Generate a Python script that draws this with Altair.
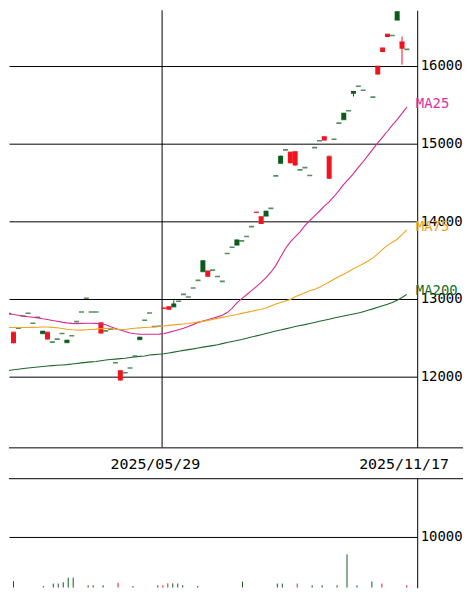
import altair as alt
import pandas as pd

# ---------------- data ----------------
# candle slots (index 0..82); None = no trade in that slot
opens = [12812,12430,12625,12782,12817,12688,12765,12590,12480,12445,
         12483,12555,12475,12526,12709,12833,13009,12833,12833,12555,
         12590,12612,12180,11950,12050,12111,12265,12513,12727,12820,
         12645,12650,12875,12862,12943,12970,13060,13025,13141,13240,
         13500,13287,13372,13290,13227,13586,13667,13765,13748,13804,
         13932,14110,13966,14137,14167,14586,14846,14920,14747,14718,
         14663,14692,14590,14949,15038,15042,14547,15058,15265,15397,
         15423,15679,15740,15688,None,15599,15890,16180,16375,16393,
         16705,16222,16214]
highs = [12812,12570,12625,12782,12817,12688,12765,12590,12570,12445,
         12483,12555,12475,12526,12709,12833,13009,12833,12833,12692,
         12590,12612,12180,12077,12050,12111,12265,12513,12727,12820,
         12645,12650,12885,12900,12983,12970,13060,13025,13141,13240,
         13500,13359,13372,13290,13227,13586,13667,13765,13748,13804,
         13932,14118,14060,14137,14167,14586,14846,14920,14889,14897,
         14663,14692,14590,14949,15038,15090,14846,15058,15265,15397,
         15423,15679,15740,15688,None,15599,15996,16230,16410,16393,
         16705,16380,16214]
lows = [12812,12430,12625,12782,12817,12688,12765,12555,12480,12445,
        12483,12555,12440,12526,12709,12833,13009,12833,12833,12555,
        12590,12612,12180,11950,12050,12111,12265,12480,12727,12820,
        12645,12650,12875,12862,12900,12970,13060,13025,13141,13240,
        13355,13287,13372,13290,13227,13586,13667,13696,13748,13804,
        13932,14110,13966,14068,14167,14586,14747,14920,14747,14718,
        14663,14692,14590,14949,15038,15042,14547,15058,15265,15312,
        15423,15607,15740,15688,None,15599,15890,16180,16375,16393,
        16594,16017,16214]
closes = [12812,12570,12625,12782,12817,12688,12765,12555,12570,12445,
          12483,12555,12440,12526,12709,12833,13009,12833,12833,12692,
          12590,12612,12180,12077,12050,12111,12265,12480,12727,12820,
          12645,12650,12885,12900,12900,12970,13060,13025,13141,13240,
          13355,13359,13372,13290,13227,13586,13667,13696,13748,13804,
          13932,14118,14060,14068,14167,14586,14747,14920,14889,14897,
          14663,14692,14590,14949,15038,15090,14833,15058,15265,15312,
          15423,15650,15740,15688,None,15599,15996,16230,16410,16393,
          16594,16308,16214]
volumes = [0,0,1300,0,0,0,0,0,330,0,
           820,820,1070,1970,1970,0,0,490,490,0,
           490,0,0,980,0,0,330,0,0,0,
           0,490,490,870,870,820,490,0,0,330,
           0,0,0,0,0,0,0,0,1200,0,
           0,0,0,0,0,820,820,0,0,820,
           0,0,490,0,490,0,0,490,0,6560,
           0,490,0,0,1230,0,820,0,0,0,
           0,490,0]
ma25 = [12812,12800,12790,12779,12772,12764,12757,12745,12735,12724,
        12713,12702,12693,12686,12683,12686,12688,12688,12686,12680,
        12668,12643,12621,12600,12582,12562,12552,12548,12547,12547,
        12547,12548,12555,12570,12588,12605,12622,12645,12670,12697,
        12715,12733,12752,12770,12790,12825,12880,12950,13005,13055,
        13108,13160,13215,13275,13345,13430,13540,13650,13735,13800,
        13865,13945,14010,14070,14130,14195,14250,14320,14395,14475,
        14545,14615,14695,14770,14850,14930,15010,15085,15160,15240,
        15310,15390,15470]
ma75 = [12632,12632,12632,12632,12633,12635,12637,12640,12640,12635,
        12630,12620,12610,12604,12600,12599,12603,12608,12612,12618,
        12623,12617,12611,12605,12608,12616,12623,12628,12632,12636,
        12640,12645,12652,12660,12667,12673,12678,12685,12695,12705,
        12712,12725,12738,12750,12763,12775,12788,12800,12815,12828,
        12842,12855,12868,12885,12910,12935,12955,12975,12995,13030,
        13055,13080,13105,13125,13150,13185,13220,13255,13290,13320,
        13355,13390,13420,13455,13490,13530,13580,13640,13690,13730,
        13770,13830,13890]
ma200 = [12080,12088,12096,12104,12112,12118,12124,12130,12137,12142,
         12146,12150,12155,12162,12170,12177,12184,12190,12196,12205,
         12214,12220,12226,12232,12238,12246,12254,12261,12266,12278,
         12284,12289,12295,12305,12316,12327,12338,12348,12358,12370,
         12380,12390,12400,12410,12425,12440,12452,12465,12478,12494,
         12510,12525,12540,12556,12572,12588,12600,12615,12630,12646,
         12658,12670,12684,12698,12713,12726,12740,12755,12768,12780,
         12793,12806,12820,12837,12855,12873,12893,12912,12932,12955,
         12985,13020,13060]
price_ticks = [12000, 13000, 14000, 15000, 16000]
volume_ticks = [10000]
date_labels = ["2025/05/29", "2025/11/17"]
date_label_pos = [30.5, 80.46]
date_line_pos = [31.6]
ma_names = ["MA25", "MA75", "MA200"]

# ---------------- styling ----------------
RED = "#f0141e"
GREEN = "#0b5c1c"
MA_COLORS = {"MA25": "#d42a92", "MA75": "#f2a41c", "MA200": "#1f662c"}
MA_LABEL_COLORS = {"MA25": "#e0309a", "MA75": "#f0a21c", "MA200": "#18702c"}
FONT = "DejaVu Sans Mono"
FS = 14
TOTAL_W = 456

n = len(closes)
df = pd.DataFrame({
    "i": list(range(n)), "o": opens, "h": highs, "l": lows, "c": closes,
    "vol": volumes, "ma25": ma25, "ma75": ma75, "ma200": ma200,
})
df["col"] = [RED if (c is not None and o is not None and c > o) else GREEN
             for o, c in zip(opens, closes)]
candles = df.dropna(subset=["c"]).copy()
vols = df[df["vol"] > 0].copy()

xs = alt.Scale(domain=[1.1, 83.1], nice=False, zero=False)
ys = alt.Scale(domain=[11089.7, 16717.9], nice=False, zero=False)
X = alt.X("i:Q", scale=xs, axis=None)

price_axis = alt.Axis(orient="right", values=price_ticks, grid=True, gridColor="black",
                      gridOpacity=1, gridWidth=1, ticks=False, domain=True,
                      domainColor="black", domainWidth=1, labelFont=FONT,
                      labelFontSize=FS, labelColor="black", labelPadding=3,
                      labelOverlap=False, labelFlush=False, format="d", title=None)


def PY(field):
    return alt.Y(field, scale=ys, axis=price_axis)


W = 410
axis_holder = alt.Chart(pd.DataFrame({"v": price_ticks})).mark_point(opacity=0).encode(
    y=PY("v:Q"))
date_line = alt.Chart(pd.DataFrame({"i": date_line_pos})).mark_rule(
    color="black", strokeWidth=1).encode(x=X)

wicks = alt.Chart(candles).mark_rule(strokeWidth=1, clip=True).encode(
    x=X, y=PY("l:Q"), y2="h:Q", color=alt.Color("col:N", scale=None))
bodies = alt.Chart(candles).mark_bar(size=5, clip=True).encode(
    x=X, y=PY("o:Q"), y2="c:Q", color=alt.Color("col:N", scale=None))
ticks = alt.Chart(candles).mark_tick(orient="horizontal", size=5, thickness=1.6, clip=True).encode(
    x=X, y=PY("c:Q"), color=alt.Color("col:N", scale=None))

ma_layers = []
for name, field in zip(ma_names, ["ma25", "ma75", "ma200"]):
    ma_layers.append(alt.Chart(df).mark_line(color=MA_COLORS[name], strokeWidth=1.1, clip=True).encode(
        x=X, y=PY(f"{field}:Q")))

last = df.iloc[-1]
ma_lab = pd.DataFrame({
    "i": [last["i"]] * 3,
    "v": [last["ma25"], last["ma75"], last["ma200"]],
    "label": ma_names,
    "col": [MA_LABEL_COLORS[m] for m in ma_names],
})
ma_text = alt.Chart(ma_lab).mark_text(align="left", baseline="middle", dx=9, dy=-3,
                                     font=FONT, fontSize=FS).encode(
    x=X, y=PY("v:Q"), text="label:N", color=alt.Color("col:N", scale=None))

price = alt.layer(axis_holder, wicks, date_line, bodies, ticks, *ma_layers, ma_text).properties(
    width=W, height=439)

# date strip
lab_df = pd.DataFrame({"pos": date_label_pos, "label": date_labels})
strip_text = alt.Chart(lab_df).mark_text(align="center", baseline="middle", font=FONT,
                                         fontSize=15, color="black").encode(
    x=alt.X("pos:Q", scale=xs, axis=None), y=alt.value(17), text="label:N")
one = pd.DataFrame({"k": [0]})
top_line = alt.Chart(one).mark_rule(color="black", strokeWidth=1).encode(
    x=alt.value(0), x2=alt.value(TOTAL_W), y=alt.value(0.5))
bot_line = alt.Chart(one).mark_rule(color="black", strokeWidth=1).encode(
    x=alt.value(0), x2=alt.value(TOTAL_W), y=alt.value(31.5))
strip = alt.layer(strip_text, top_line, bot_line).properties(width=W, height=31)

# volume panel (10000 grid line 59 px below the panel top)
VH = 110
vol_axis = alt.Axis(orient="right", values=volume_ticks, grid=True, gridColor="black",
                    gridOpacity=1, gridWidth=1, ticks=False, domain=True,
                    domainColor="black", domainWidth=1, labelFont=FONT,
                    labelFontSize=FS, labelColor="black", labelPadding=3,
                    labelOverlap=False, labelFlush=False, format="d", title=None)
vol_bars = alt.Chart(vols).mark_rule(strokeWidth=1, clip=True).encode(
    x=X, y=alt.Y("vol:Q", scale=alt.Scale(domain=[0, VH / (VH - 59) * 10000], nice=False, zero=True),
                 axis=vol_axis),
    y2=alt.datum(0), color=alt.Color("col:N", scale=None))
volume = alt.layer(vol_bars).properties(width=W, height=VH)

chart = alt.vconcat(price, strip, volume, spacing=0, bounds="flush").properties(
    padding=0, background="white").configure_view(stroke="transparent")

chart.save("out.html", embed_options={"renderer": "svg", "actions": False})
